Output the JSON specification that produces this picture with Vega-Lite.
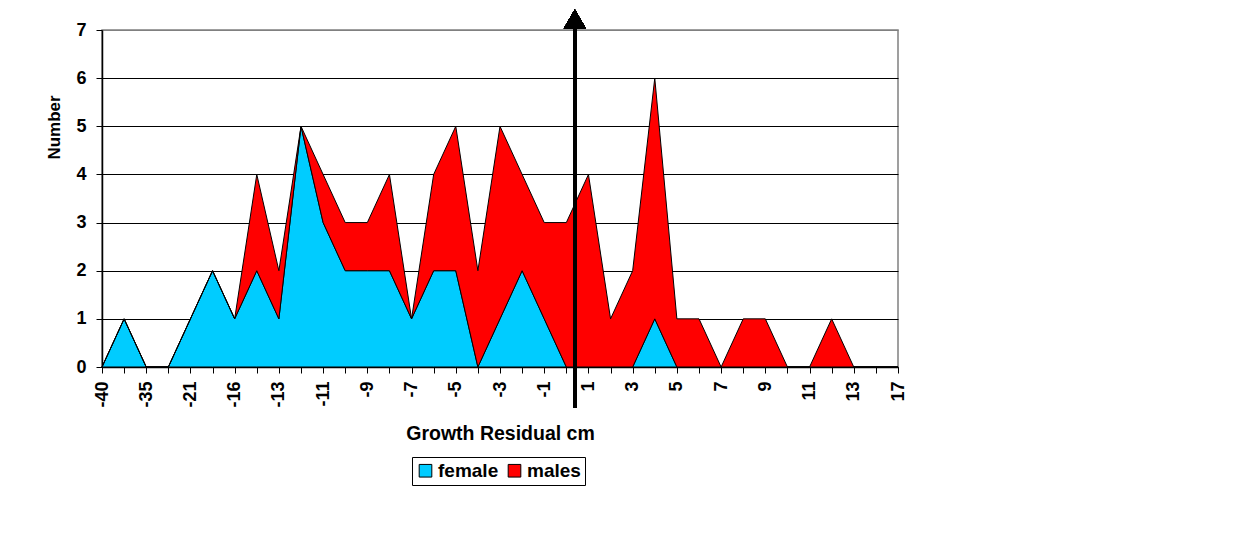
{
  "$schema": "https://vega.github.io/schema/vega-lite/v6.json",
  "autosize": {"type": "none"},
  "width": 796,
  "height": 337,
  "padding": {"left": 102, "top": 30, "right": 338, "bottom": 186},
  "background": "white",
  "config": {
    "view": {"stroke": "#808080", "strokeWidth": 1.5},
    "font": "Liberation Sans",
    "axis": {
      "labelFont": "Liberation Sans",
      "labelFontWeight": "bold",
      "labelColor": "black",
      "titleFont": "Liberation Sans",
      "titleFontWeight": "bold",
      "titleColor": "black",
      "domainColor": "black",
      "domainWidth": 1.5,
      "tickColor": "black",
      "tickWidth": 1,
      "tickSize": 6
    }
  },
  "data": {
    "values": [
      {"r": "-40", "sex": "female", "n": 0}, {"r": "-40", "sex": "males", "n": 0},
      {"r": "-37", "sex": "female", "n": 1}, {"r": "-37", "sex": "males", "n": 0},
      {"r": "-35", "sex": "female", "n": 0}, {"r": "-35", "sex": "males", "n": 0},
      {"r": "-25", "sex": "female", "n": 0}, {"r": "-25", "sex": "males", "n": 0},
      {"r": "-21", "sex": "female", "n": 1}, {"r": "-21", "sex": "males", "n": 0},
      {"r": "-19", "sex": "female", "n": 2}, {"r": "-19", "sex": "males", "n": 0},
      {"r": "-16", "sex": "female", "n": 1}, {"r": "-16", "sex": "males", "n": 0},
      {"r": "-14", "sex": "female", "n": 2}, {"r": "-14", "sex": "males", "n": 2},
      {"r": "-13", "sex": "female", "n": 1}, {"r": "-13", "sex": "males", "n": 1},
      {"r": "-12", "sex": "female", "n": 5}, {"r": "-12", "sex": "males", "n": 0},
      {"r": "-11", "sex": "female", "n": 3}, {"r": "-11", "sex": "males", "n": 1},
      {"r": "-10", "sex": "female", "n": 2}, {"r": "-10", "sex": "males", "n": 1},
      {"r": "-9", "sex": "female", "n": 2}, {"r": "-9", "sex": "males", "n": 1},
      {"r": "-8", "sex": "female", "n": 2}, {"r": "-8", "sex": "males", "n": 2},
      {"r": "-7", "sex": "female", "n": 1}, {"r": "-7", "sex": "males", "n": 0},
      {"r": "-6", "sex": "female", "n": 2}, {"r": "-6", "sex": "males", "n": 2},
      {"r": "-5", "sex": "female", "n": 2}, {"r": "-5", "sex": "males", "n": 3},
      {"r": "-4", "sex": "female", "n": 0}, {"r": "-4", "sex": "males", "n": 2},
      {"r": "-3", "sex": "female", "n": 1}, {"r": "-3", "sex": "males", "n": 4},
      {"r": "-2", "sex": "female", "n": 2}, {"r": "-2", "sex": "males", "n": 2},
      {"r": "-1", "sex": "female", "n": 1}, {"r": "-1", "sex": "males", "n": 2},
      {"r": "0", "sex": "female", "n": 0}, {"r": "0", "sex": "males", "n": 3},
      {"r": "1", "sex": "female", "n": 0}, {"r": "1", "sex": "males", "n": 4},
      {"r": "2", "sex": "female", "n": 0}, {"r": "2", "sex": "males", "n": 1},
      {"r": "3", "sex": "female", "n": 0}, {"r": "3", "sex": "males", "n": 2},
      {"r": "4", "sex": "female", "n": 1}, {"r": "4", "sex": "males", "n": 5},
      {"r": "5", "sex": "female", "n": 0}, {"r": "5", "sex": "males", "n": 1},
      {"r": "6", "sex": "female", "n": 0}, {"r": "6", "sex": "males", "n": 1},
      {"r": "7", "sex": "female", "n": 0}, {"r": "7", "sex": "males", "n": 0},
      {"r": "8", "sex": "female", "n": 0}, {"r": "8", "sex": "males", "n": 1},
      {"r": "9", "sex": "female", "n": 0}, {"r": "9", "sex": "males", "n": 1},
      {"r": "10", "sex": "female", "n": 0}, {"r": "10", "sex": "males", "n": 0},
      {"r": "11", "sex": "female", "n": 0}, {"r": "11", "sex": "males", "n": 0},
      {"r": "12", "sex": "female", "n": 0}, {"r": "12", "sex": "males", "n": 1},
      {"r": "13", "sex": "female", "n": 0}, {"r": "13", "sex": "males", "n": 0},
      {"r": "15", "sex": "female", "n": 0}, {"r": "15", "sex": "males", "n": 0},
      {"r": "17", "sex": "female", "n": 0}, {"r": "17", "sex": "males", "n": 0}
    ]
  },
  "layer": [
    {
      "mark": {"type": "area", "stroke": "black", "strokeWidth": 1, "opacity": 1},
      "encoding": {
        "x": {
          "field": "r",
          "type": "ordinal",
          "sort": null,
          "scale": {"type": "point", "padding": 0},
          "axis": {
            "title": "Growth Residual cm",
            "titleFontSize": 19.5,
            "titleY": 72,
            "titleBaseline": "alphabetic",
            "labelAngle": -90,
            "labelFontSize": 18,
            "labelPadding": 8,
            "labelExpr": "indexof(['-40','-35','-21','-16','-13','-11','-9','-7','-5','-3','-1','1','3','5','7','9','11','13','17'], datum.label) >= 0 ? datum.label : ''",
            "grid": false
          }
        },
        "y": {
          "field": "n",
          "type": "quantitative",
          "stack": "zero",
          "scale": {"domain": [0, 7], "nice": false},
          "axis": {
            "title": "Number",
            "titleFontSize": 17,
            "titleX": -48,
            "titleY": 97,
            "titleAngle": -90,
            "titleAlign": "center",
            "titleBaseline": "middle",
            "values": [0, 1, 2, 3, 4, 5, 6, 7],
            "labelFontSize": 18,
            "labelPadding": 10,
            "grid": true,
            "gridColor": {"condition": {"test": "datum.value == 7", "value": "#808080"}, "value": "black"},
            "gridWidth": 1.2
          }
        },
        "color": {
          "field": "sex",
          "type": "nominal",
          "scale": {"domain": ["female", "males"], "range": ["#00CCFF", "#FF0000"]},
          "legend": {
            "title": null,
            "orient": "none",
            "legendX": 310,
            "legendY": 427,
            "direction": "horizontal",
            "strokeColor": "black",
            "fillColor": "white",
            "padding": 4,
            "symbolType": "square",
            "symbolSize": 160,
            "symbolStrokeColor": "black",
            "symbolStrokeWidth": 1,
            "labelFont": "Liberation Sans",
            "labelFontWeight": "bold",
            "labelFontSize": 19,
            "labelColor": "black",
            "columnPadding": 6,
            "labelOffset": 3
          }
        },
        "order": {"field": "sex", "sort": "ascending"}
      }
    },
    {
      "mark": {"type": "rule", "color": "black", "strokeWidth": 3, "xOffset": 8.5, "clip": false},
      "encoding": {
        "x": {"datum": "0", "type": "ordinal"},
        "y": {"datum": -0.85, "type": "quantitative", "scale": {"domain": [0, 7], "nice": false}},
        "y2": {"datum": 7.2}
      }
    },
    {
      "mark": {"type": "point", "shape": "triangle-up", "filled": true, "color": "black", "opacity": 1, "size": 480, "xOffset": 8.5, "clip": false},
      "encoding": {
        "x": {"datum": "0", "type": "ordinal"},
        "y": {"datum": 7.23, "type": "quantitative", "scale": {"domain": [0, 7], "nice": false}}
      }
    }
  ]
}
